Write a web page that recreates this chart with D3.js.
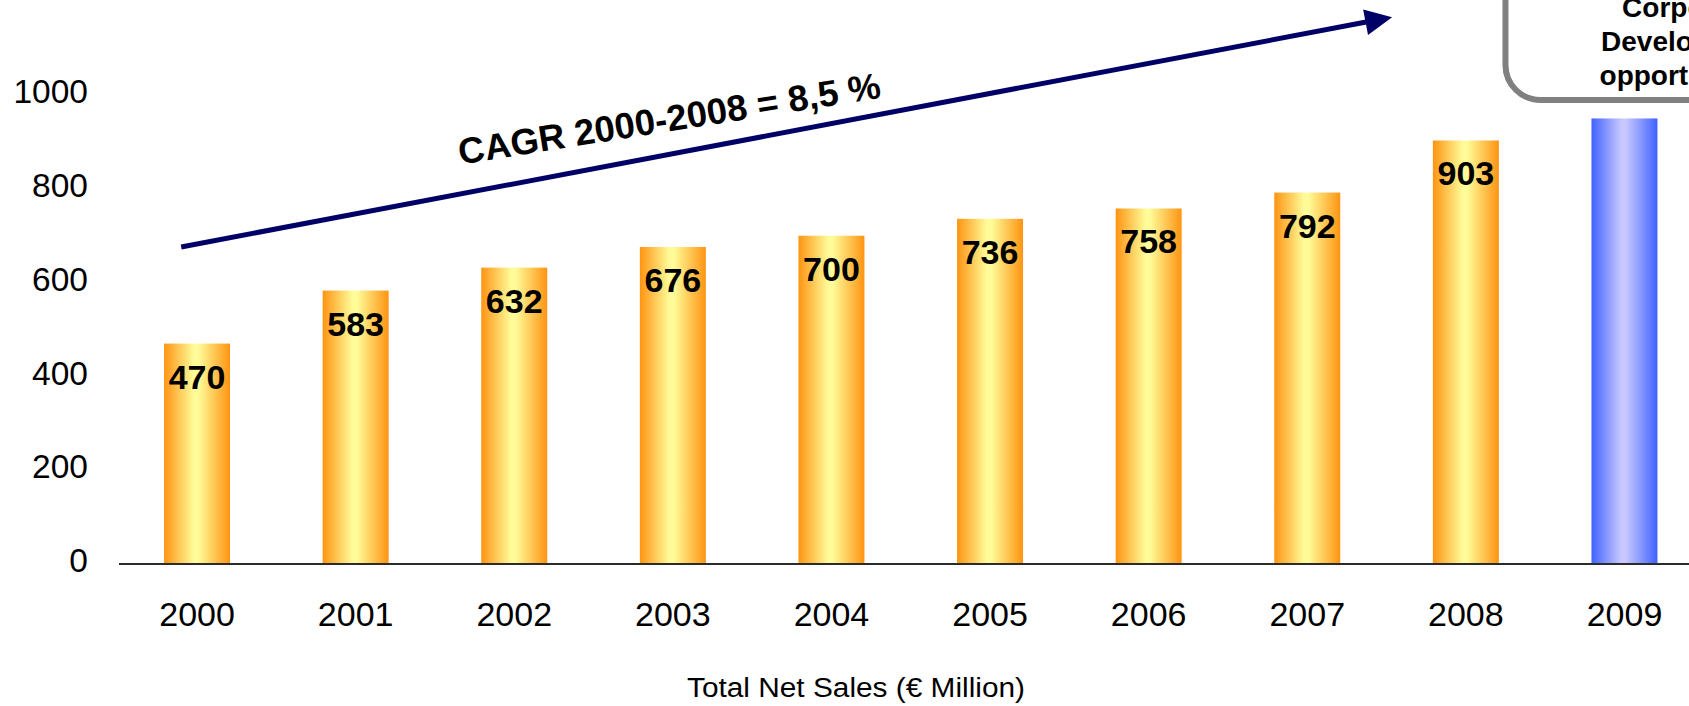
<!DOCTYPE html>
<html>
<head>
<meta charset="utf-8">
<script src="https://cdn.jsdelivr.net/npm/d3@7"></script>
<style>
  html, body { margin: 0; padding: 0; background: #fff; overflow: hidden; }
  svg { display: block; font-family: "Liberation Sans", Arial, sans-serif; }
</style>
</head>
<body>
<svg id="chart" width="1689" height="706"></svg>
<script>
// ---- data ----
const years = ["2000","2001","2002","2003","2004","2005","2006","2007","2008","2009"];
const sales = [470, 583, 632, 676, 700, 736, 758, 792, 903, 950];
const showLabel = [true, true, true, true, true, true, true, true, true, false];
const barKind = ["actual","actual","actual","actual","actual","actual","actual","actual","actual","forecast"];
const yTicks = [0, 200, 400, 600, 800, 1000];
const axisTitle = "Total Net Sales (€ Million)";
const cagrText = "CAGR 2000-2008 = 8,5 %";
const arrowFrom = { idx: -0.1, value: 676 };
const arrowTo = { idx: 7.535, value: 1166 };
const cagrPos = { idx: 2.99, value: 923 };
const boxLines = ["Corporate", "Development", "opportunities"];

// ---- layout ----
const svg = d3.select("#chart");
const W = 1689, H = 706;

const x = d3.scaleBand().domain(years).range([119, 1702.5])
  .paddingInner(0.584).paddingOuter(0.284);
const y = d3.scaleLinear().domain([0, 1000]).range([564, 95]);
const bw = x.bandwidth();
const xi = d3.scaleLinear().domain([0, 9])
  .range([x(years[0]) + bw / 2, x(years[9]) + bw / 2]);

// gradients
const defs = svg.append("defs");
function grad(id, edge, mid) {
  const g = defs.append("linearGradient").attr("id", id)
    .attr("x1", "0%").attr("x2", "100%").attr("y1", "0%").attr("y2", "0%");
  g.append("stop").attr("offset", "0%").attr("stop-color", edge);
  g.append("stop").attr("offset", "45%").attr("stop-color", mid);
  g.append("stop").attr("offset", "52%").attr("stop-color", mid);
  g.append("stop").attr("offset", "100%").attr("stop-color", edge);
}
grad("gOrange", "#FF9412", "#FFFB98");
grad("gBlue", "#3F62FF", "#C8C8FF");

// bars
svg.append("g").selectAll("rect").data(years).join("rect")
  .attr("x", d => x(d))
  .attr("y", (d, i) => y(sales[i]))
  .attr("width", bw)
  .attr("height", (d, i) => y(0) - y(sales[i]))
  .attr("fill", (d, i) => barKind[i] === "forecast" ? "url(#gBlue)" : "url(#gOrange)");

// value labels
svg.append("g").selectAll("text").data(years.filter((d, i) => showLabel[i])).join("text")
  .attr("x", d => x(d) + bw / 2)
  .attr("y", d => y(sales[years.indexOf(d)]) + 45)
  .attr("text-anchor", "middle")
  .attr("font-size", 34).attr("font-weight", "bold").attr("fill", "#000")
  .text(d => sales[years.indexOf(d)]);

// x axis
const xAxis = svg.append("g").attr("transform", `translate(0,${y(0)})`)
  .call(d3.axisBottom(x).tickSize(0).tickPadding(0));
xAxis.select(".domain").attr("d", `M${119},0H${W}`).attr("stroke", "#2b2b2b").attr("stroke-width", 2);
xAxis.selectAll(".tick text")
  .attr("y", 62).attr("dy", null)
  .attr("font-size", 34).attr("font-family", "Liberation Sans, Arial, sans-serif").attr("fill", "#000");

// y axis (labels only)
const yAxis = svg.append("g").attr("transform", `translate(119,0)`)
  .call(d3.axisLeft(y).tickValues(yTicks).tickSize(0).tickPadding(31).tickFormat(d3.format("d")));
yAxis.select(".domain").remove();
yAxis.selectAll(".tick text")
  .attr("dy", "0.32em")
  .attr("transform", "translate(0,-3)")
  .attr("font-size", 33.5).attr("font-family", "Liberation Sans, Arial, sans-serif").attr("fill", "#000");

// axis title
svg.append("text")
  .attr("x", 856).attr("y", 697)
  .attr("text-anchor", "middle").attr("font-size", 27).attr("fill", "#000")
  .attr("textLength", 338).attr("lengthAdjust", "spacingAndGlyphs")
  .text(axisTitle);

// CAGR arrow
const x0 = xi(arrowFrom.idx), y0 = y(arrowFrom.value);
const x1 = xi(arrowTo.idx), y1 = y(arrowTo.value);
const ang = Math.atan2(y1 - y0, x1 - x0);
const headLen = 27, headHalf = 13;
const bx = x1 - headLen * Math.cos(ang), by = y1 - headLen * Math.sin(ang);
svg.append("line")
  .attr("x1", x0).attr("y1", y0).attr("x2", bx + 2 * Math.cos(ang)).attr("y2", by + 2 * Math.sin(ang))
  .attr("stroke", "#000066").attr("stroke-width", 5);
svg.append("path")
  .attr("d", d3.line()([
    [x1, y1],
    [bx - headHalf * Math.sin(ang), by + headHalf * Math.cos(ang)],
    [bx + headHalf * Math.sin(ang), by - headHalf * Math.cos(ang)]
  ]) + "Z")
  .attr("fill", "#000066");

// CAGR label
svg.append("text")
  .attr("transform", `translate(${xi(cagrPos.idx)},${y(cagrPos.value)}) rotate(-9)`)
  .attr("text-anchor", "middle")
  .attr("font-size", 36.5).attr("font-weight", "bold").attr("fill", "#000")
  .text(cagrText);

// top-right callout box (clipped by page edge, as in the reference)
svg.append("rect")
  .attr("x", x(years[9]) - 86).attr("y", -60)
  .attr("width", 372).attr("height", 160)
  .attr("rx", 35).attr("ry", 35)
  .attr("fill", "#fff").attr("stroke", "#808080").attr("stroke-width", 6);
svg.append("g").selectAll("text").data(boxLines).join("text")
  .attr("x", W)
  .attr("y", (d, i) => 17 + i * 34)
  .attr("text-anchor", "middle")
  .attr("font-size", 28).attr("font-weight", "bold").attr("fill", "#000")
  .text(d => d);
</script>
</body>
</html>
